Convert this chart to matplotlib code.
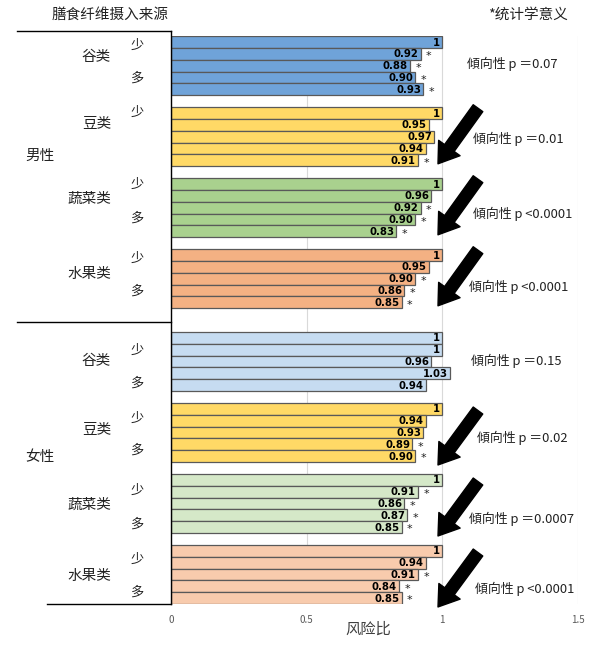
import matplotlib
matplotlib.use("Agg")
import matplotlib.pyplot as plt
from matplotlib.lines import Line2D

plt.rcParams['font.family'] = ['Noto Sans CJK SC', 'DejaVu Sans']

# data
groups = ['谷类', '豆类', '蔬菜类', '水果类']
sexes = ['男性', '女性']
male_hr = [[1, 0.92, 0.88, 0.90, 0.93],
           [1, 0.95, 0.97, 0.94, 0.91],
           [1, 0.96, 0.92, 0.90, 0.83],
           [1, 0.95, 0.90, 0.86, 0.85]]
male_sig = [[0, 1, 1, 1, 1],
            [0, 0, 0, 0, 1],
            [0, 0, 1, 1, 1],
            [0, 0, 1, 1, 1]]
female_hr = [[1, 1, 0.96, 1.03, 0.94],
             [1, 0.94, 0.93, 0.89, 0.90],
             [1, 0.91, 0.86, 0.87, 0.85],
             [1, 0.94, 0.91, 0.84, 0.85]]
female_sig = [[0, 0, 0, 0, 0],
              [0, 0, 0, 1, 1],
              [0, 1, 1, 1, 1],
              [0, 0, 1, 1, 1]]
male_trend = ['傾向性 p ＝0.07', '傾向性 p ＝0.01', '傾向性 p <0.0001', '傾向性 p <0.0001']
female_trend = ['傾向性 p ＝0.15', '傾向性 p ＝0.02', '傾向性 p ＝0.0007', '傾向性 p <0.0001']
male_down = [False, True, True, True]
female_down = [False, True, True, True]

male_colors = ['#6FA3D9', '#FFD966', '#A9D18E', '#F4B183']
female_colors = ['#C6DCF1', '#FFD966', '#D5E8C8', '#F8CBAD']

W, H = 600, 650
x0_px, x1_px = 171, 578       # x=0 and x=1.5
top_px, bot_px = 36, 604
slot = (bot_px - top_px) / 48.0


def px2x(px):
    return (px - x0_px) / (x1_px - x0_px) * 1.5


def py2y(py):
    return (py - top_px) / slot - 0.5


fig = plt.figure(figsize=(6, 6.5), dpi=100)
ax = fig.add_axes([x0_px / W, 1 - bot_px / H, (x1_px - x0_px) / W, (bot_px - top_px) / H])
ax.set_xlim(0, 1.5)
ax.set_ylim(47.5, -0.5)

for s in ['top', 'right', 'bottom', 'left']:
    ax.spines[s].set_visible(False)
ax.set_yticks([])
ax.set_xticks([0, 0.5, 1, 1.5])
ax.set_xticklabels(['0', '0.5', '1', '1.5'])
ax.tick_params(axis='x', length=0, labelsize=7, labelcolor='#595959', pad=8)
ax.grid(axis='x', color='#d9d9d9', linewidth=0.8)
ax.set_axisbelow(True)
ax.set_xlabel('风险比', fontsize=11, color='#404040', labelpad=2)
ax.xaxis.set_label_coords(px2x(368) / 1.5, -0.03)

# left side labels per group (offsets from group start)
shao_off = [[0.25, -0.02, 0.0, 0.3], [1.1, 0.8, 0.9, 0.7]]
name_off = [[1.3, 0.95, 1.3, 1.6], [2.0, 1.8, 2.1, 2.1]]
duo_off = [[3.05, None, 2.9, 3.1], [3.8, 3.5, 3.75, 3.5]]
trend_off = [[1.9, 2.2, 2.55, 2.7], [1.95, 2.5, 3.3, 3.2]]
trend_x = [[467, 473, 473, 469], [471, 477, 469, 475]]

for si, (hrs, sigs, trends, downs, cols) in enumerate([
        (male_hr, male_sig, male_trend, male_down, male_colors),
        (female_hr, female_sig, female_trend, female_down, female_colors)]):
    base = 0 if si == 0 else 25
    for gi in range(len(groups)):
        start = base + gi * 6
        ys = [start + k for k in range(5)]
        ax.barh(ys, hrs[gi], height=1.0, color=cols[gi], edgecolor='#595959', linewidth=0.9)
        for y, v, sg in zip(ys, hrs[gi], sigs[gi]):
            lab = '1' if v == 1 else f'{v:.2f}'
            ax.text(v - 0.008, y + 0.05, lab, ha='right', va='center', fontsize=7.3,
                    fontweight='bold', family='DejaVu Sans', color='black')
            if sg:
                ax.text(v + 0.02, y + 0.2, '*', ha='left', va='center', fontsize=8,
                        family='DejaVu Sans', color='#222222')
        ax.text(px2x(111), start + name_off[si][gi], groups[gi], ha='right', va='center',
                fontsize=10.5, color='#222222')
        ax.text(px2x(137), start + shao_off[si][gi], '少', ha='center', va='center',
                fontsize=9.5, color='#222222')
        if duo_off[si][gi] is not None:
            ax.text(px2x(137), start + duo_off[si][gi], '多', ha='center', va='center',
                    fontsize=9.5, color='#222222')
        ax.text(px2x(trend_x[si][gi]), start + trend_off[si][gi], trends[gi], ha='left',
                va='center', fontsize=9.3, color='#222222')
        if downs[gi]:
            if si == 0:
                tail, head = start - 0.4, start + 4.3
            else:
                tail, head = start + 0.15, start + 4.75
            ax.annotate('', xy=(px2x(438), head), xytext=(px2x(478), tail),
                        annotation_clip=False,
                        arrowprops=dict(arrowstyle='simple,head_width=1.9,head_length=1.4,tail_width=0.85',
                                        mutation_scale=10, color='black',
                                        shrinkA=0, shrinkB=0))

ax.text(px2x(40), py2y(156), sexes[0], ha='center', va='center', fontsize=10.5, color='#222222')
ax.text(px2x(40), py2y(457), sexes[1], ha='center', va='center', fontsize=10.5, color='#222222')


# category frame lines
def hline(y, xa, xb):
    fig.add_artist(Line2D([xa / W, xb / W], [1 - y / H, 1 - y / H], color='black', linewidth=1))


hline(31, 17, 171)
hline(322, 17, 171)
hline(604, 47, 171)
fig.add_artist(Line2D([171 / W, 171 / W], [1 - 31 / H, 1 - 604 / H], color='black', linewidth=1))

fig.text(110 / W, 1 - 15 / H, '膳食纤维摄入来源', ha='center', va='center', fontsize=10.5, color='#222222')
fig.text(528 / W, 1 - 15 / H, '*统计学意义', ha='center', va='center', fontsize=10.5, color='#222222')

fig.savefig('out.png', dpi=100, facecolor='white')
